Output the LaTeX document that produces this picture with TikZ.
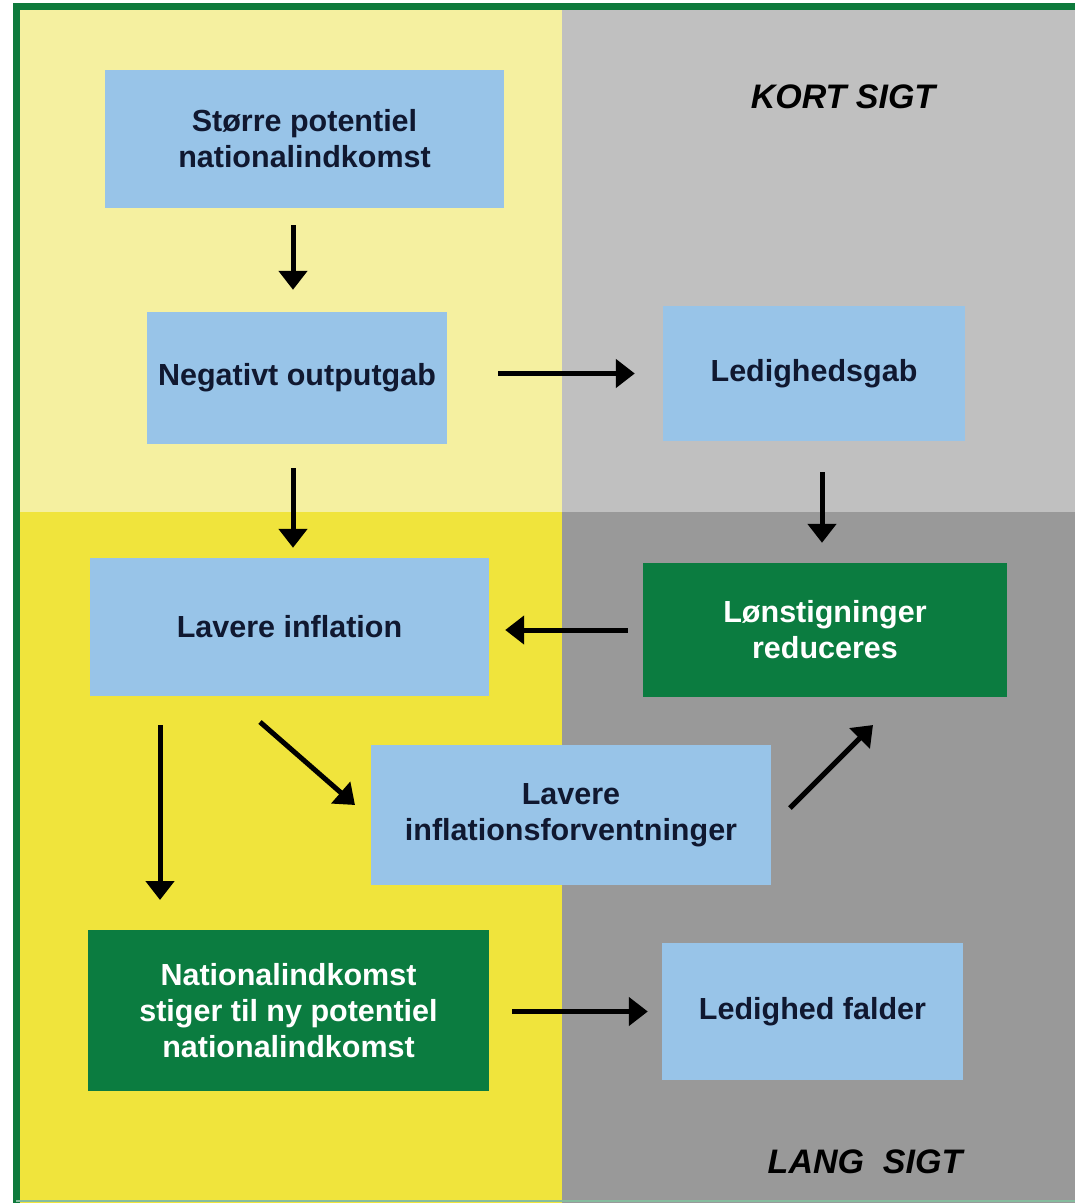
\documentclass[tikz,border=0pt]{standalone}
\usepackage{fontspec}
\setmainfont{Liberation Sans}
\usetikzlibrary{arrows.meta,calc}
\definecolor{lyel}{RGB}{245,240,160}
\definecolor{byel}{RGB}{240,228,60}
\definecolor{lgry}{RGB}{192,192,192}
\definecolor{dgry}{RGB}{153,153,153}
\definecolor{bbox}{RGB}{152,196,232}
\definecolor{gbox}{RGB}{11,124,64}
\definecolor{frame}{RGB}{14,122,60}
\definecolor{navy}{RGB}{16,24,48}
\begin{document}
\begin{tikzpicture}[x=1pt,y=-1pt,
  box/.style={rectangle,inner sep=0pt,align=center,font=\fontsize{30.5}{36}\selectfont\bfseries},
  bluebox/.style={box,fill=bbox,text=navy},
  greenbox/.style={box,fill=gbox,text=white},
  arr/.style={line width=5pt,-{Triangle[width=28pt,length=19pt]},black},
  lbl/.style={font=\fontsize{34}{40}\selectfont\bfseries\itshape,text=black}]
\useasboundingbox (0,0) rectangle (1075,1203);
% quadrants
\fill[white] (0,0) rectangle (1075,1203);
\fill[lyel] (16,6) rectangle (562,512);
\fill[lgry] (562,6) rectangle (1075,512);
\fill[byel] (16,512) rectangle (562,1203);
\fill[dgry] (562,512) rectangle (1075,1203);
% frame
\draw[frame,line width=7pt] (16,1203) -- (16,6) -- (1075,6);
\draw[frame!50,line width=2pt] (16,1201) -- (1075,1201);
% boxes
\node[bluebox,minimum width=399pt,minimum height=138pt] (b1) at (304.5,139) {Større potentiel\\nationalindkomst};
\node[bluebox,minimum width=300pt,minimum height=132pt] (b2) at (297,378) {Negativt outputgab};
\node[bluebox,minimum width=302pt,minimum height=135pt] (b3) at (814,373.5) {Ledighedsgab};
\node[greenbox,minimum width=364pt,minimum height=134pt] (b4) at (825,630) {Lønstigninger\\reduceres};
\node[bluebox,minimum width=399pt,minimum height=138pt] (b5) at (289.5,627) {Lavere inflation};
\node[bluebox,minimum width=400pt,minimum height=140pt] (b6) at (571,815) {Lavere\\inflationsforventninger};
\node[greenbox,minimum width=401pt,minimum height=161pt] (b7) at (288.5,1010.5) {Nationalindkomst\\stiger til ny potentiel\\nationalindkomst};
\node[bluebox,minimum width=301pt,minimum height=137pt] (b8) at (812.5,1011.5) {Ledighed falder};
% labels
\node[lbl] (kort) at (843,97) {KORT SIGT};
\node[lbl] (lang) at (865,1162) {LANG\ \ SIGT};
% connector end points
\coordinate (f1) at (260,722);
\coordinate (f2) at (355,805);
\coordinate (g1) at (160,725);
\coordinate (g2) at (160,900);
\coordinate (h1) at (790,808);
\coordinate (h2) at (873,725);
% arrows
\draw[arr,shorten <=17pt,shorten >=22pt] (b1.south -| 293,0) -- (b2.north -| 293,0);
\draw[arr,shorten <=24pt,shorten >=10pt] (b2.south -| 293,0) -- (b5.north -| 293,0);
\draw[arr,shorten <=51pt,shorten >=28pt] (b2.east |- b3.west) -- (b3.west);
\draw[arr,shorten <=31pt,shorten >=20pt] (b3.south -| 822,0) -- (b4.north -| 822,0);
\draw[arr,shorten <=15pt,shorten >=16pt] (b4.west) -- (b4.west -| b5.east);
\draw[arr] (f1) -- (f2);
\draw[arr] (g1) -- (g2);
\draw[arr] (h1) -- (h2);
\draw[arr,shorten <=23pt,shorten >=14pt] (b7.east |- b8.west) -- (b8.west);
\end{tikzpicture}
\end{document}
